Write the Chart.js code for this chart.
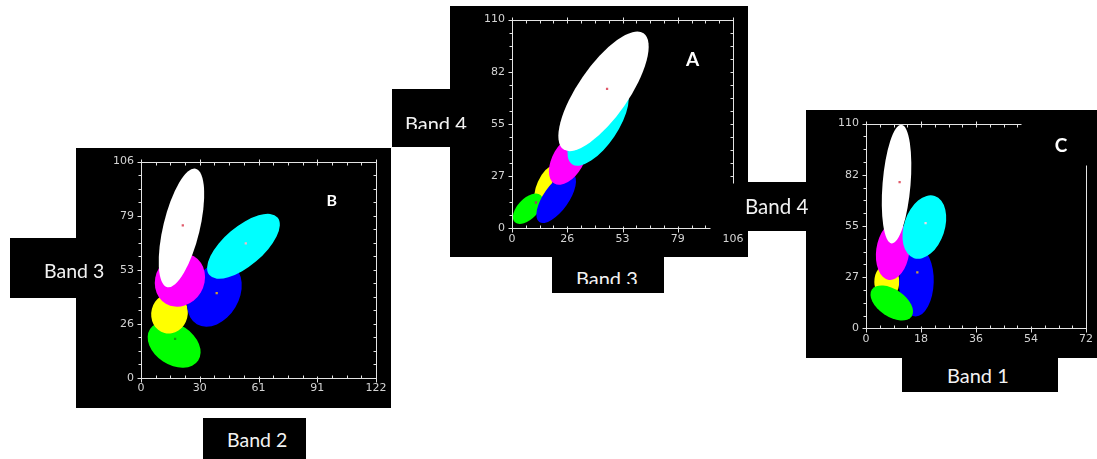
<!DOCTYPE html>
<html>
<head>
<meta charset="utf-8">
<script src="https://cdn.jsdelivr.net/npm/chart.js@4.4.1/dist/chart.umd.min.js"></script>
<style>
body { margin: 0; background: #fff; width: 1097px; height: 459px; position: relative; overflow: hidden; }
.blk { position: absolute; background: #000; }
.lbl { position: absolute; color: #f2f2f2; font-family: Lato, "Open Sans", sans-serif; white-space: nowrap; line-height: 1; }
.clip { position: absolute; overflow: hidden; width: 110px; }
.clip .lbl { left: 0; top: 0; }
canvas { position: absolute; }
</style>
</head>
<body>
<div class="blk" style="left:10px;top:238px;width:67px;height:60px"></div>
<div class="blk" style="left:203px;top:418px;width:103px;height:41px"></div>
<div class="blk" style="left:392px;top:89px;width:58px;height:58px"></div>
<div class="blk" style="left:552px;top:257px;width:112px;height:36px"></div>
<div class="blk" style="left:743px;top:182px;width:63px;height:49px"></div>
<div class="blk" style="left:902px;top:358px;width:156px;height:34px"></div>

<canvas id="chartB" width="315" height="260" style="left:76px;top:148px;background:#000"></canvas>
<canvas id="chartA" width="298" height="251" style="left:450px;top:6px;background:#000"></canvas>
<canvas id="chartC" width="291" height="248" style="left:806px;top:110px;background:#000"></canvas>

<div class="lbl" style="left:44px;top:261px;font-size:19.5px">Band 3</div>
<div class="lbl" style="left:227px;top:430px;font-size:19.5px">Band 2</div>
<div class="clip" style="left:405px;top:113px;height:16px"><div class="lbl" style="font-size:20px">Band 4</div></div>
<div class="clip" style="left:576px;top:268px;height:16px"><div class="lbl" style="font-size:20px">Band 3</div></div>
<div class="lbl" style="left:745px;top:196px;font-size:20.5px">Band 4</div>
<div class="lbl" style="left:947px;top:365px;font-size:20px">Band 1</div>

<script>
// class colours, drawn in the order of each ellipse list
const colGreen = '#00ff00', colYellow = '#ffff00', colBlue = '#0000ff',
    colMagenta = '#ff00ff', colCyan = '#00ffff', colWhite = '#ffffff';

// panel B : Band 2 vs Band 3
const bXTicks = [0, 30.5, 61, 91.5, 122];
const bXLabels = ['0', '30', '61', '91', '122'];
const bYTicks = [0, 26.5, 53, 79.5, 106];
const bYLabels = ['0', '26', '53', '79', '106'];
// centre x, centre y, half major axis dx, dy, minor/major ratio
const bEllipses = [
    [17.2, 16.3, 12.5, -7.7, 0.7],
    [14.8, 31.6, 2.6, 9.6, 0.9],
    [38.1, 40.8, 9.1, 14.5, 0.71],
    [53.2, 64.5, 17.7, 14.1, 0.44],
    [20.2, 48, 7.3, 11.6, 0.88],
    [21, 73.5, 7.4, 29, 0.3]
];
const bColors = [colGreen, colYellow, colBlue, colCyan, colMagenta, colWhite];
const bCentroids = [{x: 21.7, y: 74.8}, {x: 54.4, y: 66}, {x: 39.3, y: 41.6}, {x: 17.7, y: 19.2}];
const bCentroidColors = ['#e05a6a', '#f6b6c6', '#d0a030', '#119911'];

// panel A : Band 3 vs Band 4
const aXTicks = [0, 26.5, 53, 79.5, 106];
const aXLabels = ['0', '26', '53', '79', '106'];
const aYTicks = [0, 27.5, 55, 82.5, 110];
const aYLabels = ['0', '27', '55', '82', '110'];
const aEllipses = [
    [15.5, 23.1, 3.8, 9.2, 0.36],
    [7.6, 10.3, 6.2, 7.1, 0.55],
    [21.2, 16, 8.1, 12.7, 0.43],
    [27, 36.3, 6.7, 12.7, 0.56],
    [41.3, 54.2, 12.5, 20.4, 0.42],
    [43.9, 72.2, 19.2, 30.6, 0.36]
];
const aColors = [colYellow, colGreen, colBlue, colMagenta, colCyan, colWhite];
const aCentroids = [{x: 45.6, y: 73.5}, {x: 11.5, y: 13.6}];
const aCentroidColors = ['#e05a6a', '#a04060'];

// panel C : Band 1 vs Band 4
const cXTicks = [0, 18, 36, 54, 72];
const cXLabels = ['0', '18', '36', '54', '72'];
const cYTicks = [0, 27.5, 55, 82.5, 110];
const cYLabels = ['0', '27', '55', '82', '110'];
const cEllipses = [
    [6.8, 25, 0, 9.3, 0.72],
    [16.5, 25, 0.32, 18.6, 0.5],
    [8.43, 13.6, 6.5, -7.2, 0.57],
    [8.76, 41.5, 1.3, 15.5, 0.57],
    [10, 77.5, 1.6, 31.9, 0.235],
    [19.1, 54.4, 3.4, 16.7, 0.62]
];
const cColors = [colYellow, colBlue, colGreen, colMagenta, colWhite, colCyan];
const cCentroids = [{x: 11, y: 78.5}, {x: 19.5, y: 56.5}, {x: 16.8, y: 30}];
const cCentroidColors = ['#e05a6a', '#f0d8e4', '#c8a040'];

const ellipsePlugin = {
    id: 'ellipses',
    beforeDatasetsDraw(chart, args, o) {
        const {ctx, scales: {x, y}} = chart;
        ctx.save();
        o.shapes.forEach((e, i) => {
            const cx = x.getPixelForValue(e[0]), cy = y.getPixelForValue(e[1]);
            const ux = x.getPixelForValue(e[0] + e[2]) - cx;
            const uy = y.getPixelForValue(e[1] + e[3]) - cy;
            ctx.beginPath();
            ctx.save();
            ctx.transform(ux, uy, -uy * e[4], ux * e[4], cx, cy);
            ctx.arc(0, 0, 1, 0, Math.PI * 2);
            ctx.restore();
            ctx.fillStyle = o.colors[i];
            ctx.fill();
        });
        ctx.restore();
    }
};

function subTicks(t) {
    let out = [];
    for (let i = 0; i < t.length - 1; i++) {
        for (let k = 0; k < 4; k++) out.push(t[i] + (t[i + 1] - t[i]) * k / 4);
    }
    out.push(t[t.length - 1]);
    return out;
}

// frame, tick marks and the panel letter
const framePlugin = {
    id: 'frame',
    afterDraw(chart, args, o) {
        const {ctx, scales: {x, y}} = chart;
        const px = v => Math.round(x.getPixelForValue(v)) + 0.5;
        const py = v => Math.round(y.getPixelForValue(v)) + 0.5;
        const line = (x1, y1, x2, y2) => { ctx.beginPath(); ctx.moveTo(x1, y1); ctx.lineTo(x2, y2); ctx.stroke(); };
        const xs = subTicks(o.xTicks), ys = subTicks(o.yTicks);
        const L = px(x.min), R = px(x.max), T = py(y.max), B = py(y.min);
        ctx.save();
        ctx.strokeStyle = '#e4e4e4';
        ctx.lineWidth = 1;
        // left
        line(L, T, L, B);
        ys.forEach((v, i) => line(L - (i % 4 ? 3 : 4), py(v), L, py(v)));
        // bottom
        const bEnd = o.bottomTo !== undefined ? o.bottomTo : x.max;
        line(L, B, px(bEnd), B);
        xs.forEach((v, i) => {
            if (v > bEnd) return;
            if (i % 4) line(px(v), B - 3, px(v), B);
            else line(px(v), B - 2, px(v), B + 4);
        });
        // top
        const tEnd = o.topTo !== undefined ? o.topTo : x.max;
        line(L, T, px(tEnd), T);
        xs.forEach((v, i) => {
            if (v > tEnd) return;
            if (i % 4) line(px(v), T, px(v), T + 3);
            else line(px(v), T - 3, px(v), T + 3);
        });
        // right
        const rTop = o.rightFrom !== undefined ? o.rightFrom : y.max;
        const rBot = o.rightTo !== undefined ? o.rightTo : y.min;
        line(R, py(rTop), R, py(rBot));
        if (o.rightTicks) {
            ys.forEach(v => { if (v <= rTop && v >= rBot) line(R - 3, py(v), R, py(v)); });
        }
        // letter
        ctx.fillStyle = '#ffffff';
        ctx.font = 'bold ' + o.letterSize + 'px Lato, "Open Sans", sans-serif';
        ctx.textAlign = 'center';
        ctx.textBaseline = 'middle';
        ctx.fillText(o.letter[0], x.getPixelForValue(o.letter[1]), y.getPixelForValue(o.letter[2]));
        ctx.restore();
    }
};

function axis(ticks, labels, pad, fit) {
    return {
        type: 'linear',
        min: ticks[0],
        max: ticks[ticks.length - 1],
        grid: {display: false, drawTicks: false},
        border: {display: false},
        ticks: {
            color: '#d4d4d4',
            font: {family: 'DejaVu Sans', size: 11},
            padding: pad,
            maxRotation: 0,
            autoSkip: false,
            callback: (v, i) => labels[i]
        },
        afterBuildTicks: s => { s.ticks = ticks.map(v => ({value: v})); },
        afterFit: fit
    };
}

function makeChart(id, xt, xl, yt, yl, shapes, colors, cents, centColors, frame, padding, yW, xH) {
    frame.xTicks = xt;
    frame.yTicks = yt;
    return new Chart(document.getElementById(id), {
        type: 'scatter',
        data: {
            datasets: [{
                data: cents,
                pointStyle: 'rect',
                pointRadius: 1.6,
                pointBorderWidth: 0,
                pointBackgroundColor: centColors
            }]
        },
        options: {
            responsive: false,
            animation: false,
            layout: {padding: padding},
            scales: {
                x: axis(xt, xl, 4, s => { s.height = xH; }),
                y: axis(yt, yl, 7, s => { s.width = yW; })
            },
            plugins: {
                legend: {display: false},
                tooltip: {enabled: false},
                ellipses: {shapes: shapes, colors: colors},
                frame: frame
            }
        },
        plugins: [ellipsePlugin, framePlugin]
    });
}

makeChart('chartB', bXTicks, bXLabels, bYTicks, bYLabels, bEllipses, bColors, bCentroids, bCentroidColors,
    {letter: ['B', 99, 86.9], letterSize: 16, rightTicks: true},
    {left: 0, top: 9, right: 15, bottom: 0}, 65, 30);

makeChart('chartA', aXTicks, aXLabels, aYTicks, aYLabels, aEllipses, aColors, aCentroids, aCentroidColors,
    {letter: ['A', 86.6, 88.7], letterSize: 19, rightTicks: true, rightTo: 23.7, bottomTo: 95},
    {left: 0, top: 6.5, right: 15, bottom: 0}, 62, 28.7);

makeChart('chartC', cXTicks, cXLabels, cYTicks, cYLabels, cEllipses, cColors, cCentroids, cCentroidColors,
    {letter: ['C', 63.8, 98.2], letterSize: 19, rightTicks: false, rightFrom: 88, topTo: 50.6},
    {left: 0, top: 5.5, right: 9, bottom: 0}, 60, 29.7);
</script>
</body>
</html>
